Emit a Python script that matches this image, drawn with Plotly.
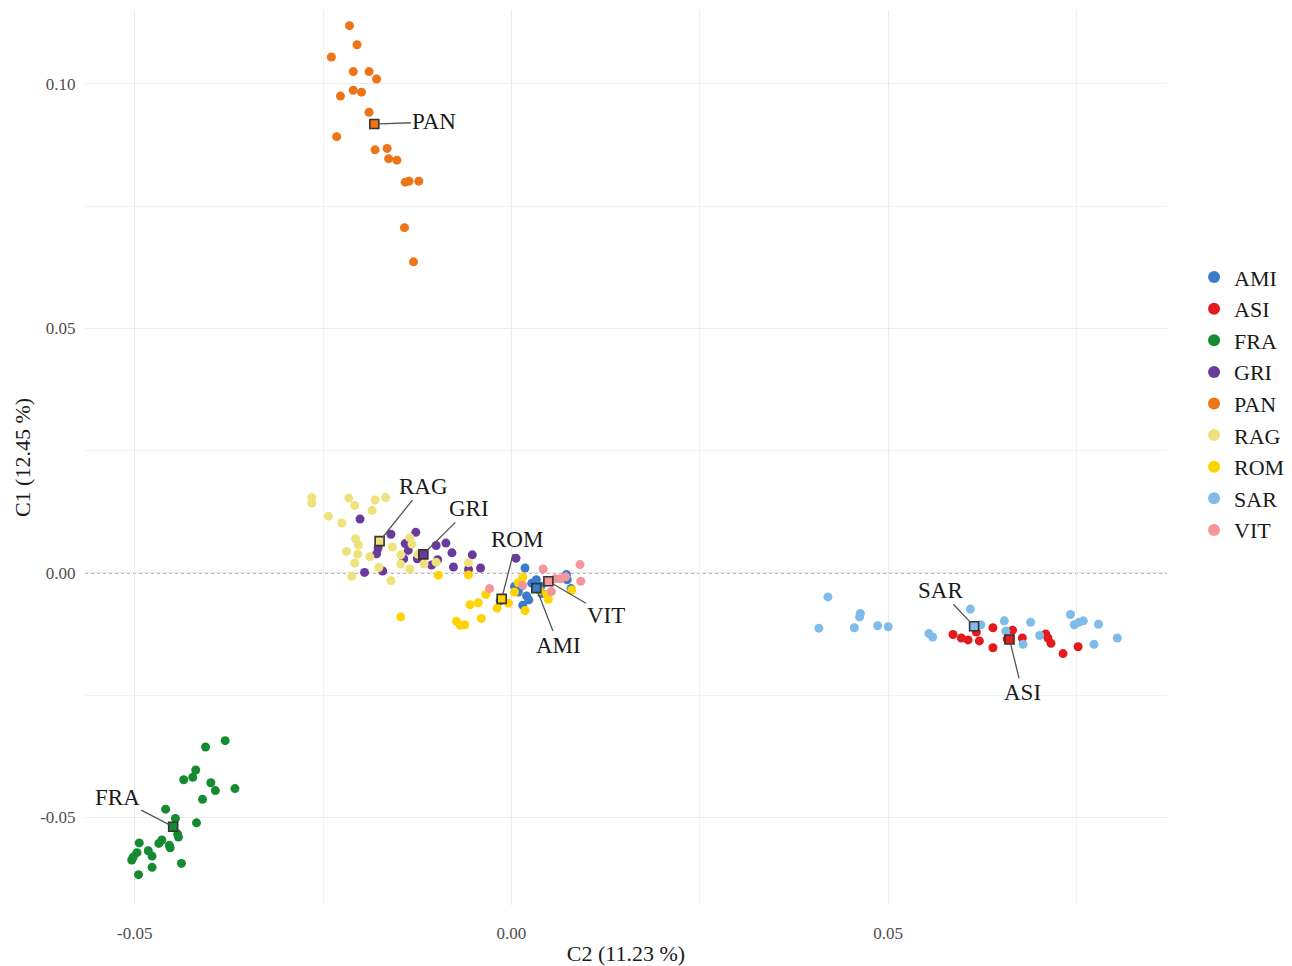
import plotly.graph_objects as go

# ---------------- data ----------------
groups = ["AMI", "ASI", "FRA", "GRI", "PAN", "RAG", "ROM", "SAR", "VIT"]
colors = ["#3A7BCB", "#E41A1C", "#168A31", "#6A3A9C", "#EE7418",
          "#EFE27C", "#FFD400", "#7FBCEA", "#F2969C"]

AMI_x = [0.0018, 0.0004, 0.0013, 0.0027, 0.0020, 0.0015, 0.0023, 0.0039, 0.0040,
         0.0073, 0.0074, 0.0079, -0.0015, 0.0033, 0.0048, 0.0009]
AMI_y = [0.0010, -0.0028, -0.0027, -0.0021, -0.0047, -0.0066, -0.0055, -0.0027, -0.0042,
         -0.0003, -0.0014, -0.0032, -0.0057, -0.0014, -0.0018, -0.0039]

ASI_x = [0.0586, 0.0597, 0.0606, 0.0617, 0.0621, 0.0639, 0.0639, 0.0665, 0.0658,
         0.0678, 0.0709, 0.0712, 0.0716, 0.0732, 0.0752]
ASI_y = [-0.0126, -0.0133, -0.0137, -0.0121, -0.0139, -0.0112, -0.0153, -0.0117, -0.0135,
         -0.0133, -0.0125, -0.0133, -0.0144, -0.0165, -0.0151]

FRA_x = [-0.0380, -0.0406, -0.0419, -0.0423, -0.0435, -0.0399, -0.0393, -0.0367, -0.0410,
         -0.0459, -0.0446, -0.0418, -0.0443, -0.0442, -0.0464, -0.0468, -0.0454, -0.0453,
         -0.0494, -0.0482, -0.0497, -0.0477, -0.0502, -0.0504, -0.0477, -0.0438, -0.0495]
FRA_y = [-0.0343, -0.0356, -0.0403, -0.0418, -0.0423, -0.0429, -0.0445, -0.0441, -0.0463,
         -0.0483, -0.0502, -0.0511, -0.0534, -0.0540, -0.0546, -0.0553, -0.0557, -0.0562,
         -0.0552, -0.0568, -0.0572, -0.0579, -0.0581, -0.0587, -0.0602, -0.0594, -0.0617]

GRI_x = [-0.0201, -0.0160, -0.0177, -0.0179, -0.0127, -0.0141, -0.0137, -0.0143, -0.0125,
         -0.0100, -0.0087, -0.0098, -0.0106, -0.0195, -0.0171, -0.0079, -0.0052, -0.0057,
         -0.0041, -0.0077, 0.0006]
GRI_y = [0.0110, 0.0079, 0.0051, 0.0039, 0.0083, 0.0060, 0.0046, 0.0029, 0.0029,
         0.0056, 0.0061, 0.0027, 0.0016, 0.0001, 0.0004, 0.0041, 0.0037, 0.0007,
         0.0010, 0.0012, 0.0030]

PAN_x = [-0.0215, -0.0205, -0.0239, -0.0210, -0.0189, -0.0179, -0.0210, -0.0199, -0.0227,
         -0.0189, -0.0232, -0.0181, -0.0165, -0.0163, -0.0152, -0.0141, -0.0136, -0.0123,
         -0.0142, -0.0130]
PAN_y = [0.1119, 0.1080, 0.1055, 0.1025, 0.1025, 0.1010, 0.0987, 0.0983, 0.0975,
         0.0942, 0.0892, 0.0865, 0.0868, 0.0847, 0.0844, 0.0799, 0.0801, 0.0801,
         0.0706, 0.0636]

RAG_x = [-0.0265, -0.0265, -0.0216, -0.0208, -0.0181, -0.0167, -0.0185, -0.0243, -0.0225,
         -0.0207, -0.0203, -0.0219, -0.0204, -0.0188, -0.0208, -0.0176, -0.0158, -0.0212,
         -0.0160, -0.0147, -0.0147, -0.0135, -0.0132, -0.0124, -0.0135, -0.0116, -0.0100,
         -0.0057]
RAG_y = [0.0154, 0.0143, 0.0153, 0.0138, 0.0149, 0.0154, 0.0128, 0.0116, 0.0102,
         0.0070, 0.0057, 0.0044, 0.0038, 0.0033, 0.0020, 0.0011, 0.0053, -0.0007,
         -0.0016, 0.0037, 0.0018, 0.0072, 0.0059, 0.0038, 0.0008, 0.0018, 0.0022,
         0.0021]

ROM_x = [-0.0147, -0.0097, -0.0057, -0.0034, -0.0044, -0.0055, -0.0019, -0.0040, -0.0073,
         -0.0068, -0.0062, -0.0004, 0.0015, 0.0004, 0.0018, 0.0037, 0.0047, 0.0049,
         0.0080, 0.0009]
ROM_y = [-0.0090, -0.0005, -0.0004, -0.0044, -0.0061, -0.0065, -0.0072, -0.0093, -0.0099,
         -0.0107, -0.0106, -0.0062, -0.0009, -0.0039, -0.0077, -0.0036, -0.0044, -0.0054,
         -0.0035, -0.0020]

SAR_x = [0.0420, 0.0408, 0.0455, 0.0463, 0.0462, 0.0486, 0.0500, 0.0554, 0.0559,
         0.0609, 0.0623, 0.0654, 0.0656, 0.0689, 0.0679, 0.0701, 0.0742, 0.0747,
         0.0753, 0.0759, 0.0779, 0.0773, 0.0804]
SAR_y = [-0.0049, -0.0113, -0.0112, -0.0083, -0.0090, -0.0108, -0.0110, -0.0124, -0.0131,
         -0.0074, -0.0106, -0.0098, -0.0119, -0.0101, -0.0146, -0.0128, -0.0085, -0.0106,
         -0.0101, -0.0098, -0.0105, -0.0146, -0.0133]

VIT_x = [-0.0029, 0.0042, 0.0091, 0.0092, 0.0053, 0.0065, 0.0058, 0.0015, 0.0072]
VIT_y = [-0.0032, 0.0008, 0.0017, -0.0017, -0.0038, -0.0012, -0.0012, -0.0025, -0.0008]

# group centroids (squares)
cent_x = [0.0033, 0.0661, -0.0449, -0.0117, -0.0182, -0.0175, -0.0013, 0.0614, 0.0049]
cent_y = [-0.0031, -0.0136, -0.0519, 0.0038, 0.0918, 0.0065, -0.0053, -0.0109, -0.0017]

# label offsets in pixels (text position relative to centroid)
label_dx = [22, 13, -56, 46, 60, 44, 15, -34, 58]
label_dy = [57, 53, -29, -46, -2, -55, -59, -36, 34]

x_title = "C2 (11.23 %)"
y_title = "C1 (12.45 %)"
x_ticks = [-0.05, 0.0, 0.05]
y_ticks = [-0.05, 0.0, 0.05, 0.10]

# ---------------- figure ----------------
series = {
    "AMI": (AMI_x, AMI_y), "ASI": (ASI_x, ASI_y), "FRA": (FRA_x, FRA_y),
    "GRI": (GRI_x, GRI_y), "PAN": (PAN_x, PAN_y), "RAG": (RAG_x, RAG_y),
    "ROM": (ROM_x, ROM_y), "SAR": (SAR_x, SAR_y), "VIT": (VIT_x, VIT_y),
}

SERIF = "Liberation Serif, Times New Roman, serif"

fig = go.Figure()
for g, c in zip(groups, colors):
    xs, ys = series[g]
    fig.add_trace(go.Scatter(
        x=xs, y=ys, mode="markers", name=g,
        marker=dict(color=c, size=9, line=dict(width=0)),
    ))

fig.add_trace(go.Scatter(
    x=cent_x, y=cent_y, mode="markers", showlegend=False,
    marker=dict(symbol="square", size=9, color=colors,
                line=dict(color="#333333", width=1.6)),
))

for g, cx, cy, dx, dy in zip(groups, cent_x, cent_y, label_dx, label_dy):
    fig.add_annotation(
        x=cx, y=cy, text=g, showarrow=True, arrowhead=0, arrowwidth=1.3,
        arrowcolor="#555555", ax=dx, ay=dy, standoff=5,
        font=dict(family=SERIF, size=23, color="#1a1a1a"),
    )

# dotted zero lines
fig.add_shape(type="line", xref="x", yref="paper", x0=0, x1=0, y0=0, y1=1,
              line=dict(color="#555555", width=1, dash="dot"), layer="below")
fig.add_shape(type="line", xref="paper", yref="y", x0=0, x1=1, y0=0, y1=0,
              line=dict(color="#555555", width=1, dash="dot"), layer="below")

fig.update_layout(
    width=1284, height=958,
    margin=dict(l=77, r=116, t=2, b=61),
    paper_bgcolor="white", plot_bgcolor="white",
    font=dict(family=SERIF, color="#333333"),
    legend=dict(
        x=1.025, xanchor="left", y=0.56, yanchor="middle",
        font=dict(family=SERIF, size=22, color="#1a1a1a"),
        itemsizing="constant", bgcolor="rgba(0,0,0,0)",
    ),
    xaxis=dict(
        range=[-0.0566, 0.087], tickvals=x_ticks,
        ticktext=["-0.05", "0.00", "0.05"],
        showgrid=True, gridcolor="#EBEBEB", gridwidth=1,
        minor=dict(dtick=0.025, tick0=0, showgrid=True, gridcolor="#F2F2F2", gridwidth=1),
        zeroline=False, showline=False,
        ticks="outside", ticklen=13, tickcolor="rgba(0,0,0,0)",
        tickfont=dict(family=SERIF, size=17, color="#4D4D4D"),
        title=dict(text=x_title, font=dict(family=SERIF, size=22, color="#1a1a1a"), standoff=9),
        automargin=False,
    ),
    yaxis=dict(
        range=[-0.0679, 0.1151], tickvals=y_ticks,
        ticktext=["-0.05", "0.00", "0.05", "0.10"],
        showgrid=True, gridcolor="#EBEBEB", gridwidth=1,
        minor=dict(dtick=0.025, tick0=0, showgrid=True, gridcolor="#F2F2F2", gridwidth=1),
        zeroline=False, showline=False,
        ticks="outside", ticklen=5, tickcolor="rgba(0,0,0,0)",
        tickfont=dict(family=SERIF, size=17, color="#4D4D4D"),
        title=dict(text=y_title, font=dict(family=SERIF, size=22, color="#1a1a1a"), standoff=3),
        automargin=False,
    ),
)

fig.write_html("out.html")
